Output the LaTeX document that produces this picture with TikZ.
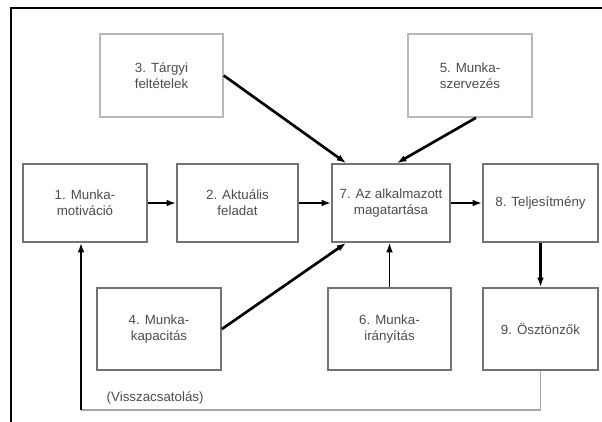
\documentclass[tikz,border=0pt]{standalone}
\usepackage{fontspec}
\setmainfont{Liberation Sans}
\usetikzlibrary{calc,arrows.meta}

\begin{document}
\begin{tikzpicture}[x=0.75pt,y=-0.75pt,>={Latex[length=7pt,width=5pt]},
  box/.style={draw=black!55,line width=1.4pt,align=center,text=black!70,
    font=\fontsize{10}{12}\selectfont,inner sep=1pt},
  topbox/.style={box,draw=black!28,line width=1.1pt},
  thickarr/.style={->,line width=2pt},
  thinarr/.style={->,line width=1pt}]
  \useasboundingbox (0,0) rectangle (602,421);
  \draw[line width=1.6pt](11,425)--(11,8)--(606,8);
  % upper row
  \node[topbox,minimum width=92.25pt,minimum height=62.25pt] (targy) at (161.5,75.5) {3. Tárgyi\\feltételek};
  \node[topbox,minimum width=93pt,minimum height=62.25pt] (szerv) at (470,75.5) {5. Munka-\\szervezés};
  % middle row
  \node[box,minimum width=93pt,minimum height=58.5pt] (motiv) at (85,203) {1. Munka-\\motiváció};
  \node[box,minimum width=90.75pt,minimum height=58.5pt] (feladat) at (237.5,203) {2. Aktuális\\feladat};
  \node[box,minimum width=88.5pt,minimum height=58.5pt] (magat) at (391,203) {7. Az alkalmazott\\magatartása};
  \node[box,minimum width=86.25pt,minimum height=58.5pt] (teljes) at (540.5,203) {8. Teljesítmény};
  % lower row
  \node[box,minimum width=93pt,minimum height=61.5pt] (kapac) at (159,329) {4. Munka-\\kapacitás};
  \node[box,minimum width=92.25pt,minimum height=61.5pt] (irany) at (389.5,329) {6. Munka-\\irányítás};
  \node[box,minimum width=86.25pt,minimum height=61.5pt] (oszt) at (540.5,329) {9. Ösztönzők};
  \draw[thickarr](motiv)--(feladat);
  \draw[thickarr](feladat)--(magat);
  \draw[thickarr](magat)--(teljes);
  \draw[thickarr](teljes)--(oszt);
  \draw[thickarr](targy.east)--($(magat.north west)+(15,0)$);
  \draw[thickarr]($(szerv.south)+(6,0)$)--($(magat.north)+(6,0)$);
  \draw[thickarr](kapac.east)--($(magat.south west)+(15,0)$);
  \draw[thinarr](irany.north)--(irany.north |- magat.south);
  % feedback loop
  \coordinate (fbL) at (81,410);
  \draw[black!35,line width=1pt](oszt.south)|-(fbL);
  \draw[thinarr,line width=1.3pt](fbL)--(fbL |- motiv.south);
  \node[anchor=west,text=black!70,font=\fontsize{10}{12}\selectfont] (fbtext) at (102,398) {(Visszacsatolás)};
\end{tikzpicture}
\end{document}
